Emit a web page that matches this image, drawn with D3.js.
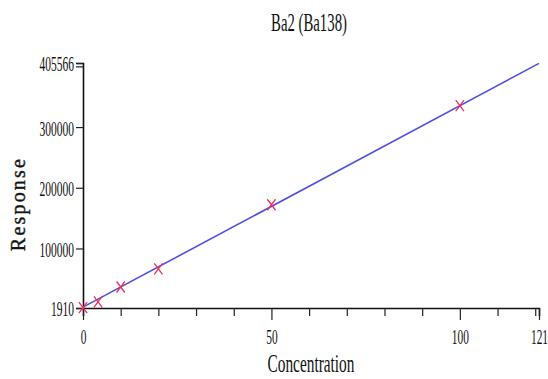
<!DOCTYPE html>
<html><head><meta charset="utf-8">
<script src="https://cdn.jsdelivr.net/npm/d3@7"></script>
<style>
html,body{margin:0;padding:0;background:#fff;}
svg{display:block;}
text{font-family:"Liberation Serif","Times New Roman",serif;fill:#111;}
</style></head><body>
<svg id="c" width="548" height="379"></svg>
<script>
const title = "Ba2 (Ba138)";
const xLabel = "Concentration";
const yLabel = "Response";
const concentration = [0, 4, 10, 20, 50, 100];
const response = [2500, 12000, 36500, 66200, 172000, 335200];
const fitX = [0, 121];
const fitY = [3300, 405000];
const xTicks = [0,10,20,30,40,50,60,70,80,90,100,110,120,121];
const xTickLabels = [0, 50, 100, 121];
const yTicks = [1910, 100000, 200000, 300000, 400000, 405566];
const yTickLabels = [1910, 100000, 200000, 300000, 405566];
const xDomain = [0, 121];
const yDomain = [1910, 405566];

const svg = d3.select("#c");
const m = {l:83, r:539, t:63, b:308};
const x = d3.scaleLinear().domain(xDomain).range([m.l, m.r]);
const y = d3.scaleLinear().domain(yDomain).range([m.b, m.t]);

// horizontally compress a text to a target width, keeping its anchor point
function squeezeTo(t, target){
  const w = t.node().getComputedTextLength();
  if (!w) return;
  const s = target / w;
  const x0 = +(t.attr("x") || 0);
  const tr = t.attr("transform") || "";
  t.attr("x", x0 / s).attr("transform", tr + ` scale(${s},1)`);
}
function squeezeChars(sel, perChar){
  sel.each(function(){
    const t = d3.select(this);
    const s = t.text();
    if (s) squeezeTo(t, s.length * perChar);
  });
}

// x axis
const xa = svg.append("g").attr("transform",`translate(0,${m.b})`)
  .call(d3.axisBottom(x).tickValues(xTicks).tickSizeOuter(0).tickSize(8)
    .tickFormat(d => xTickLabels.includes(d) ? String(d) : ""));
xa.select(".domain").attr("stroke","#111").attr("stroke-width",1.6);
xa.selectAll(".tick line").attr("stroke","#222").attr("stroke-width",1.2)
  .attr("y2", d => xTickLabels.includes(d) ? 12 : 8);
xa.selectAll(".tick text").attr("font-size",21).attr("y",21).attr("dy","0.71em")
  .attr("fill","#111").call(squeezeChars,5.7);

// y axis
const ya = svg.append("g").attr("transform",`translate(${m.l},0)`)
  .call(d3.axisLeft(y).tickValues(yTicks).tickSizeOuter(0).tickSize(7)
    .tickFormat(d => yTickLabels.includes(d) ? String(d) : ""));
ya.select(".domain").attr("stroke","#111").attr("stroke-width",1.6);
ya.selectAll(".tick line").attr("stroke","#222").attr("stroke-width",1.2);
ya.selectAll(".tick text").attr("font-size",21).attr("x",-9).attr("dy","0.38em")
  .attr("fill","#111").call(squeezeChars,5.75);

// fit line
const line = d3.line().x((d,i)=>x(fitX[i])).y((d,i)=>y(fitY[i]));
svg.append("path").datum(fitX).attr("d",line)
  .attr("fill","none").attr("stroke","#4f4fe6").attr("stroke-width",1.6);

// markers
const sz = 5.5;
const pts = svg.append("g");
concentration.forEach((c,i)=>{
  const px = x(c), py = y(response[i]);
  pts.append("path")
    .attr("d",`M${px-sz*0.75},${py-sz}L${px+sz*0.75},${py+sz}M${px+sz*0.75},${py-sz}L${px-sz*0.75},${py+sz}`)
    .attr("stroke","#f0305a").attr("stroke-width",1.3).attr("fill","none");
});

// title and labels
const tt = svg.append("text").attr("x",309).attr("y",31).attr("text-anchor","middle")
  .attr("font-size",26).text(title);
squeezeTo(tt, 76);
const xl = svg.append("text").attr("x",311).attr("y",372).attr("text-anchor","middle")
  .attr("font-size",25).text(xLabel);
squeezeTo(xl, 87);
const yl = svg.append("text").attr("transform","translate(25,204) rotate(-90)").attr("text-anchor","middle")
  .attr("font-size",20).attr("fill","#222").attr("stroke","#222").attr("stroke-width",0.4)
  .attr("letter-spacing",2.2).text(yLabel);
</script>
</body></html>
